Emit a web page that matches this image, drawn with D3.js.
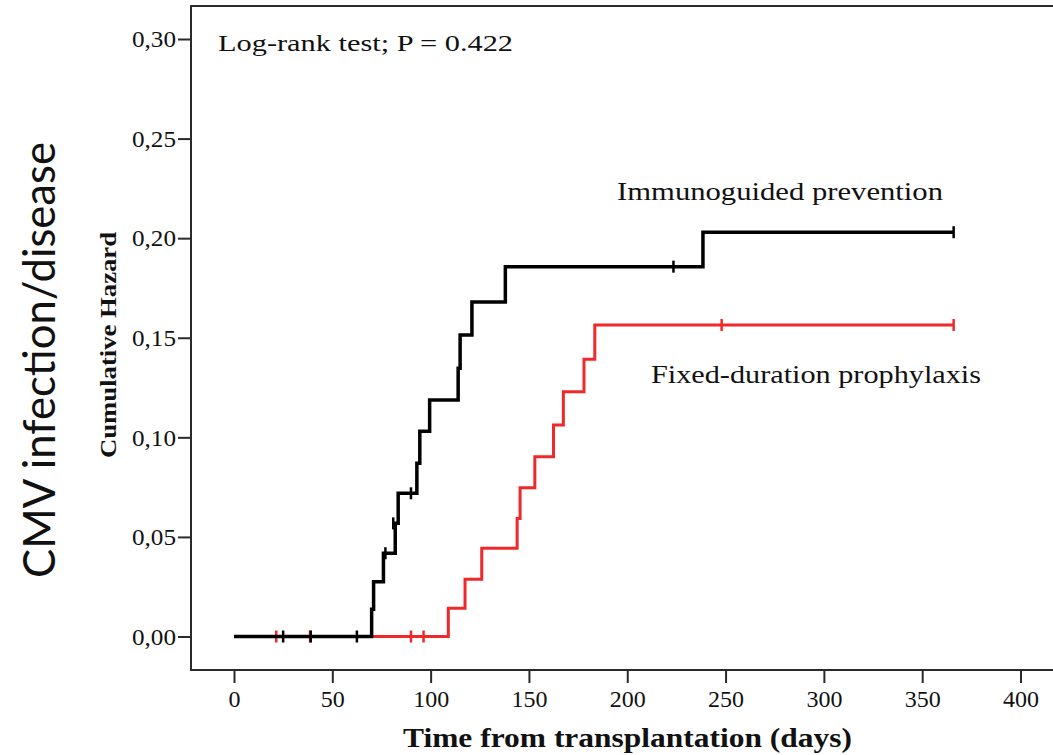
<!DOCTYPE html>
<html><head><meta charset="utf-8">
<script src="https://cdn.jsdelivr.net/npm/d3@7"></script>
<style>body{margin:0;background:#fff}svg{display:block}</style>
</head><body>
<svg id="c" width="1053" height="755"></svg>
<script>
// ---- data ----
const yTicks = [0, 0.05, 0.10, 0.15, 0.20, 0.25, 0.30];
const xTicks = [0, 50, 100, 150, 200, 250, 300, 350, 400];

const immunoTimes  = [0, 70, 71, 76, 82, 83.5, 93, 94.5, 99.5, 114, 115, 121, 138, 238.5, 366];
const immunoHazard = [0, 0.0137, 0.0275, 0.0418, 0.0568, 0.0719, 0.087, 0.103, 0.1187, 0.1347, 0.1514, 0.168, 0.1857, 0.203, 0.203];
const immunoCensTimes  = [25, 39, 62.5, 77, 81, 90, 223.5, 366];
const immunoCensHazard = [0, 0, 0, 0.0418, 0.0568, 0.0719, 0.1857, 0.203];

const fixedTimes  = [0, 109, 117.5, 126, 144, 145.5, 153, 162.5, 167.5, 178, 183.5, 366];
const fixedHazard = [0, 0.0142, 0.0287, 0.0443, 0.0593, 0.0747, 0.0903, 0.1062, 0.1229, 0.1392, 0.1564, 0.1564];
const fixedCensTimes  = [21.5, 38.7, 90, 96.4, 248, 366];
const fixedCensHazard = [0, 0, 0, 0, 0.1564, 0.1564];

const seriesNames = ["Immunoguided prevention", "Fixed-duration prophylaxis"];
const seriesColors = ["#000000", "#f0282a"];

// ---- layout ----
const svg = d3.select("#c");
const frame = {left: 191, top: 6, right: 1070, bottom: 670};
const x = d3.scaleLinear().domain([0, 400]).range([234, 1020.5]);
const y = d3.scaleLinear().domain([0, 0.30]).range([636.5, 39]);

// frame
svg.append("rect").attr("x", frame.left).attr("y", frame.top)
  .attr("width", frame.right - frame.left).attr("height", frame.bottom - frame.top)
  .attr("fill", "none").attr("stroke", "#2a2a2a").attr("stroke-width", 2);

// axes
const yAxis = svg.append("g").attr("transform", `translate(${frame.left},0)`)
  .call(d3.axisLeft(y).tickValues(yTicks).tickSize(13).tickPadding(2)
    .tickFormat(d => d.toFixed(2).replace(".", ",")));
const xAxis = svg.append("g").attr("transform", `translate(0,${frame.bottom})`)
  .call(d3.axisBottom(x).tickValues(xTicks).tickSize(13).tickPadding(4).tickFormat(d3.format("d")));
[yAxis, xAxis].forEach(g => {
  g.select(".domain").remove();
  g.selectAll(".tick line").attr("stroke", "#2a2a2a").attr("stroke-width", 2);
  g.selectAll(".tick text").attr("fill", "#111")
    .style("font-family", "'Liberation Serif', serif").style("font-size", "24px");
});
yAxis.selectAll(".tick text").attr("textLength", 44).attr("lengthAdjust", "spacingAndGlyphs");
xAxis.selectAll(".tick text").attr("dy", "0.85em");

// lines
const line = d3.line().x(d => x(d[0])).y(d => y(d[1])).curve(d3.curveStepAfter);
function drawSeries(times, haz, cT, cH, color, w) {
  svg.append("path").datum(d3.zip(times, haz)).attr("d", line)
    .attr("fill", "none").attr("stroke", color).attr("stroke-width", w)
    .attr("stroke-linejoin", "miter").attr("stroke-linecap", "butt");
  svg.append("g").selectAll("line").data(d3.zip(cT, cH)).join("line")
    .attr("x1", d => x(d[0])).attr("x2", d => x(d[0]))
    .attr("y1", d => y(d[1]) - 6).attr("y2", d => y(d[1]) + 6)
    .attr("stroke", color).attr("stroke-width", 2.5);
}
drawSeries(fixedTimes, fixedHazard, fixedCensTimes, fixedCensHazard, seriesColors[1], 3);
drawSeries(immunoTimes, immunoHazard, immunoCensTimes, immunoCensHazard, seriesColors[0], 3.5);

// texts
const serif = "'Liberation Serif', 'Times New Roman', serif";
function txt(s, px, py, size, len, opts = {}) {
  const t = svg.append("text").attr("x", px).attr("y", py).text(s)
    .style("font-family", opts.family || serif).style("font-size", size + "px")
    .style("font-weight", opts.bold ? "bold" : "normal").attr("fill", "#111");
  if (len) t.attr("textLength", len).attr("lengthAdjust", "spacingAndGlyphs");
  if (opts.rotate) t.attr("transform", `rotate(-90 ${px} ${py})`).attr("text-anchor", "middle");
  return t;
}
txt("Log-rank test; P = 0.422", 218, 51, 24, 295);
txt(seriesNames[0], 617, 200, 26, 326);
txt(seriesNames[1], 651, 383, 26, 330);
txt("Time from transplantation (days)", 403, 747, 27, 449, {bold: true});
txt("Cumulative Hazard", 116, 345, 23, 226, {bold: true, rotate: true});
txt("CMV infection/disease", 55, 360, 44, 436, {family: "Lato, 'Noto Sans', sans-serif", rotate: true});
</script>
</body></html>
